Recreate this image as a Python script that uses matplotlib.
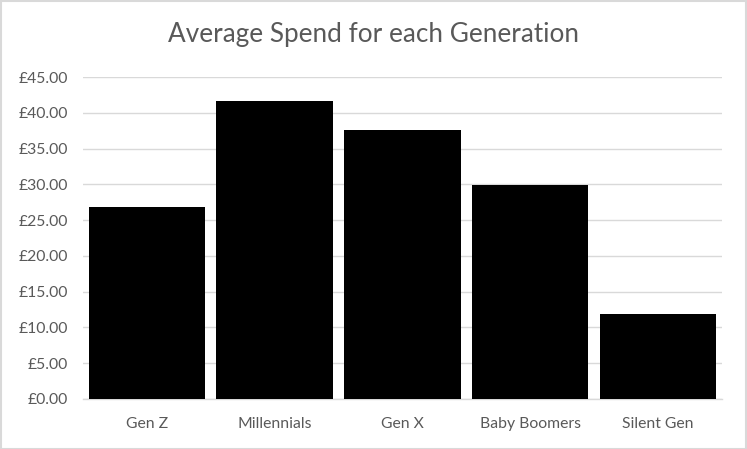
import matplotlib

matplotlib.use("Agg")
import matplotlib.pyplot as plt
from matplotlib.patches import Rectangle

generations = ["Gen Z", "Millennials", "Gen X", "Baby Boomers", "Silent Gen"]
avg_spend = [26.8, 41.7, 37.6, 29.85, 11.9]
y_ticks = [0, 5, 10, 15, 20, 25, 30, 35, 40, 45]

TEXT = "#595959"
GRID = "#d9d9d9"

plt.rcParams["font.family"] = ["Lato", "DejaVu Sans"]

fig = plt.figure(figsize=(7.47, 4.49), dpi=100)
ax = fig.add_axes([0.111, 0.1114, 0.8555, 0.7171])

xs = range(len(generations))
ax.bar(xs, avg_spend, width=0.91, color="black", zorder=3)

ax.set_xlim(-0.5, len(generations) - 0.5)
ax.set_ylim(0, 45)
ax.set_yticks(y_ticks)
ax.set_yticklabels([f"£{v:.2f}" for v in y_ticks])
ax.set_xticks(list(xs))
ax.set_xticklabels(generations)

ax.grid(axis="y", color=GRID, lw=1.0, zorder=0)
for side in ["top", "right", "left"]:
    ax.spines[side].set_visible(False)
ax.spines["bottom"].set_color(GRID)
ax.spines["bottom"].set_linewidth(1.0)
ax.tick_params(axis="both", length=0, colors=TEXT, labelsize=11.3)
ax.tick_params(axis="y", pad=11)
ax.tick_params(axis="x", pad=13)

fig.suptitle("Average Spend for each Generation", y=0.95, fontsize=18.8, color=TEXT)

fig.patches.append(Rectangle((0.001, 0.001), 0.997, 0.996, transform=fig.transFigure,
                             fill=False, edgecolor=GRID, lw=1.5))

fig.savefig("out.png", dpi=100)
